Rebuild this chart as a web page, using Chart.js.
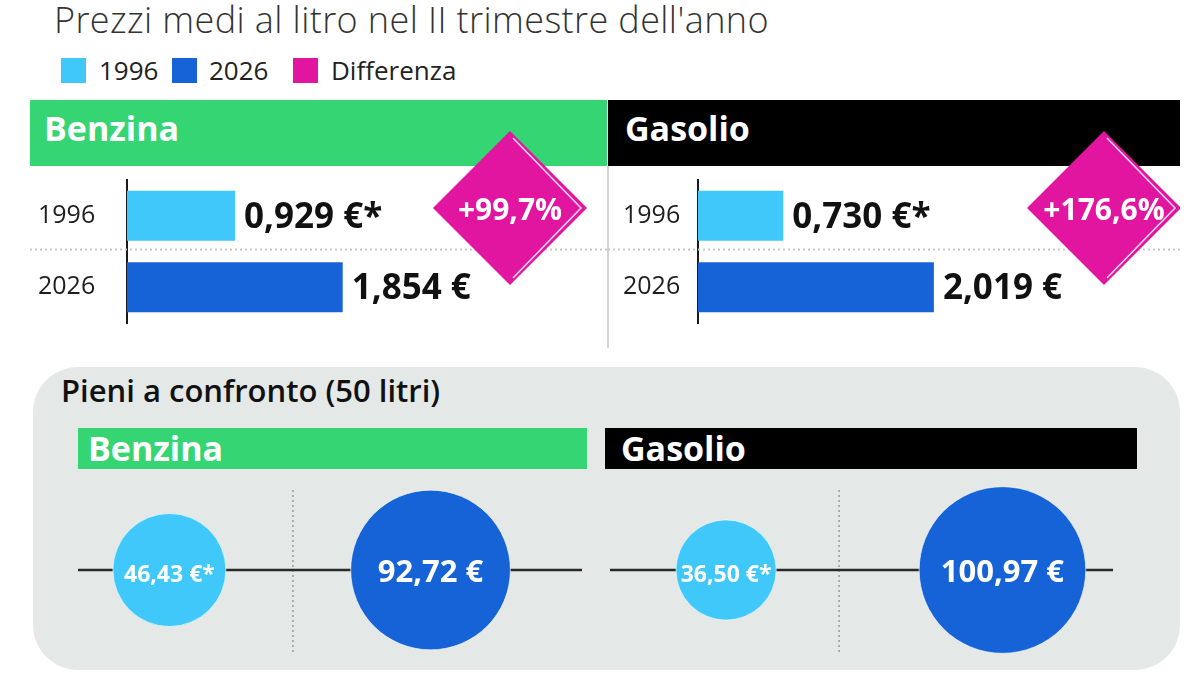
<!DOCTYPE html>
<html lang="it">
<head>
<meta charset="utf-8">
<title>Prezzi medi al litro</title>
<script src="https://cdn.jsdelivr.net/npm/chart.js@4.4.0/dist/chart.umd.min.js"></script>
<style>
  body { margin:0; width:1200px; height:675px; background:#fff; position:relative; overflow:hidden; font-family:'Open Sans', sans-serif; }
  .abs { position:absolute; }
  #titolo { left:54px; top:-2px; font-size:36px; line-height:44px; font-weight:300; letter-spacing:0.4px; color:#333; white-space:nowrap; }
  .leg-sq { top:58px; width:25px; height:25px; }
  .leg-tx { top:52px; font-size:26px; line-height:36px; color:#222; }
  .testata { color:#fff; font-weight:700; font-size:34px; box-sizing:border-box; }
  #pannello { left:33px; top:367px; width:1147px; height:303px; background:#e4e9e7; border-radius:45px; }
  #sottotitolo { left:61px; top:371px; font-size:31px; line-height:38px; font-weight:600; color:#111; }
  canvas { position:absolute; }
</style>
</head>
<body>
<div id="titolo" class="abs">Prezzi medi al litro nel II trimestre dell'anno</div>

<div class="abs leg-sq" style="left:61px;background:#3fc8f9"></div>
<div class="abs leg-tx" style="left:99px">1996</div>
<div class="abs leg-sq" style="left:172px;background:#1563d6"></div>
<div class="abs leg-tx" style="left:209px">2026</div>
<div class="abs leg-sq" style="left:293px;background:#e1159f"></div>
<div class="abs leg-tx" style="left:331px">Differenza</div>

<div class="abs testata" style="left:30px;top:100px;width:577px;height:66px;line-height:56px;padding-left:14px;background:#35d574">Benzina</div>
<div class="abs testata" style="left:608px;top:100px;width:572px;height:66px;line-height:56px;padding-left:17px;background:#000">Gasolio</div>
<div class="abs" style="left:607px;top:166px;width:2px;height:182px;background:#d4d4d4"></div>

<div id="pannello" class="abs"></div>
<div id="sottotitolo" class="abs">Pieni a confronto (50 litri)</div>
<div class="abs testata" style="left:78px;top:428px;width:509px;height:41px;line-height:41px;padding-left:10px;background:#35d574">Benzina</div>
<div class="abs testata" style="left:605px;top:428px;width:532px;height:41px;line-height:41px;padding-left:16px;background:#000">Gasolio</div>

<canvas id="barBenzina" width="577" height="250" style="left:30px;top:100px"></canvas>
<canvas id="barGasolio" width="572" height="250" style="left:608px;top:100px"></canvas>
<canvas id="pienoBenzina" width="504" height="170" style="left:78px;top:485px"></canvas>
<canvas id="pienoGasolio" width="503" height="170" style="left:610px;top:485px"></canvas>

<script>
// dati
const anni = ['1996', '2026'];
const benzinaLitro = [0.929, 1.854];
const gasolioLitro = [0.730, 2.019];
const differenza = [99.7, 176.6]; // Benzina, Gasolio (%)
const benzinaPieno = [46.43, 92.72];
const gasolioPieno = [36.50, 100.97];
const asterisco = ['*', ''];
const coloriAnni = ['#3fc8f9', '#1563d6'];
const magenta = '#e1159f';

Chart.defaults.font.family = "'Open Sans', sans-serif";

const euro = (v, dec) => v.toFixed(dec).replace('.', ',') + ' €';

// valori a fine barra, riga tratteggiata fra gli anni e rombo della differenza
const etichetteBarre = {
  id: 'etichetteBarre',
  beforeDatasetsDraw(chart) {
    const ctx = chart.ctx;
    const y = chart.scales.y;
    const yMid = (y.getPixelForValue(0) + y.getPixelForValue(1)) / 2 - 2;
    ctx.save();
    ctx.strokeStyle = '#c9c9c9';
    ctx.lineWidth = 2;
    ctx.setLineDash([2, 3]);
    ctx.beginPath();
    ctx.moveTo(0, yMid);
    ctx.lineTo(chart.width, yMid);
    ctx.stroke();
    ctx.restore();
  },
  afterDatasetsDraw(chart, args, opts) {
    const ctx = chart.ctx;
    const meta = chart.getDatasetMeta(0);
    const valori = chart.data.datasets[0].data;
    ctx.save();
    ctx.font = "700 35px 'Open Sans'";
    ctx.fillStyle = '#111';
    ctx.textBaseline = 'middle';
    meta.data.forEach((bar, i) => {
      ctx.fillText(euro(valori[i], 3) + asterisco[i], bar.x + 9, bar.y + 2);
    });

    // rombo
    const cx = opts.x, cy = opts.y, h = 77;
    ctx.fillStyle = magenta;
    ctx.beginPath();
    ctx.moveTo(cx, cy - h);
    ctx.lineTo(cx + h, cy);
    ctx.lineTo(cx, cy + h);
    ctx.lineTo(cx - h, cy);
    ctx.closePath();
    ctx.fill();
    ctx.strokeStyle = 'rgba(255,255,255,0.85)';
    ctx.lineWidth = 1.5;
    ctx.beginPath();
    ctx.moveTo(cx + 3, cy - h + 7);
    ctx.lineTo(cx + h - 6, cy);
    ctx.lineTo(cx + 3, cy + h - 7);
    ctx.stroke();

    ctx.fillStyle = '#fff';
    ctx.textAlign = 'center';
    ctx.font = "700 30px 'Open Sans'";
    ctx.fillText('+' + opts.diff.toFixed(1).replace('.', ',') + '%', cx, cy + 3);
    ctx.restore();
  }
};

function graficoBarre(id, valori, padLeft, labelW, rombo) {
  return new Chart(document.getElementById(id), {
    type: 'bar',
    data: {
      labels: anni,
      datasets: [{
        data: valori,
        backgroundColor: coloriAnni,
        categoryPercentage: 1,
        barPercentage: 0.7
      }]
    },
    options: {
      indexAxis: 'y',
      responsive: false,
      animation: false,
      layout: { autoPadding: false, padding: { left: padLeft, top: 80, bottom: 27, right: 3 } },
      scales: {
        x: { display: false, min: 0, max: 4.1 },
        y: {
          grid: { display: false, drawTicks: false },
          border: { display: true, color: '#1a1a1a', width: 2 },
          ticks: { color: '#1e1e1e', font: { size: 25 }, crossAlign: 'far', padding: 0 },
          afterFit(scale) { scale.width = labelW; }
        }
      },
      plugins: {
        legend: { display: false },
        tooltip: { enabled: false },
        etichetteBarre: rombo
      }
    },
    plugins: [etichetteBarre]
  });
}

graficoBarre('barBenzina', benzinaLitro, 8, 89, { x: 480, y: 108, diff: differenza[0] });
graficoBarre('barGasolio', gasolioLitro, 15, 75, { x: 496, y: 108, diff: differenza[1] });

// pieni: cerchi con area proporzionale al costo
const K = 8.29;

const lineaPieni = {
  id: 'lineaPieni',
  beforeDatasetsDraw(chart, args, opts) {
    const ctx = chart.ctx;
    const a = chart.chartArea;
    const y0 = chart.scales.y.getPixelForValue(0);
    const xs = chart.scales.x.getPixelForValue(opts.sep);
    ctx.save();
    ctx.strokeStyle = '#9a9a9a';
    ctx.lineWidth = 1.5;
    ctx.setLineDash([2, 3]);
    ctx.beginPath();
    ctx.moveTo(xs, a.top + 5);
    ctx.lineTo(xs, a.bottom - 2);
    ctx.stroke();
    ctx.setLineDash([]);
    ctx.strokeStyle = '#2a2a2a';
    ctx.lineWidth = 2.5;
    ctx.beginPath();
    ctx.moveTo(a.left, y0);
    ctx.lineTo(a.right, y0);
    ctx.stroke();
    ctx.restore();
  },
  afterDatasetsDraw(chart) {
    const ctx = chart.ctx;
    const meta = chart.getDatasetMeta(0);
    const valori = chart.data.datasets[0].valori;
    ctx.save();
    ctx.fillStyle = '#fff';
    ctx.textAlign = 'center';
    ctx.textBaseline = 'middle';
    meta.data.forEach((pt, i) => {
      ctx.font = i === 0 ? "700 23px 'Open Sans'" : "700 31px 'Open Sans'";
      ctx.fillText(euro(valori[i], 2) + asterisco[i], pt.x, pt.y + (i === 0 ? 5 : 3));
    });
    ctx.restore();
  }
};

function graficoPieni(id, valori, min, max, sep) {
  return new Chart(document.getElementById(id), {
    type: 'bubble',
    data: {
      datasets: [{
        valori: valori,
        data: valori.map((v, i) => ({ x: i, y: 0, r: K * Math.sqrt(v) })),
        backgroundColor: coloriAnni,
        borderColor: 'rgba(255,255,255,0.6)',
        borderWidth: 1,
        clip: false
      }]
    },
    options: {
      responsive: false,
      animation: false,
      layout: { autoPadding: false, padding: 0 },
      scales: {
        x: { display: false, min: min, max: max },
        y: { display: false, min: -1, max: 1 }
      },
      plugins: {
        legend: { display: false },
        tooltip: { enabled: false },
        lineaPieni: { sep: sep }
      }
    },
    plugins: [lineaPieni]
  });
}

graficoPieni('pienoBenzina', benzinaPieno, -0.35, 1.58, 0.473);
graficoPieni('pienoGasolio', gasolioPieno, -0.42, 1.40, 0.409);
</script>
</body>
</html>
